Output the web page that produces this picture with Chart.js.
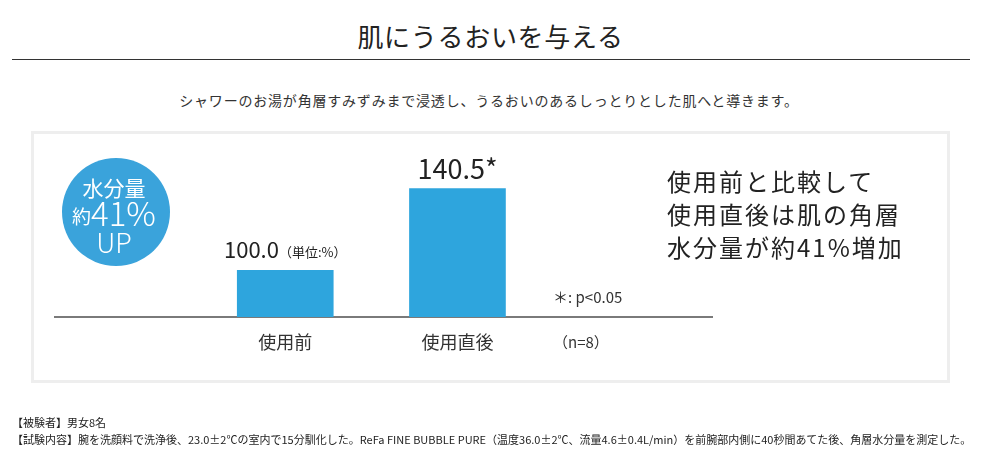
<!DOCTYPE html>
<html lang="ja">
<head>
<meta charset="utf-8">
<script src="https://cdn.jsdelivr.net/npm/chart.js@4.4.1/dist/chart.umd.min.js"></script>
<style>
  body { margin: 0; background: #fff; font-family: "Noto Sans CJK JP", sans-serif; color: #222; }
  #page { position: relative; width: 987px; height: 472px; overflow: hidden; }
  #page div { position: absolute; white-space: nowrap; line-height: 1; }
  #chart { position: absolute; left: 0; top: 0; }
  .title { left: 0; width: 981px; top: 23px; text-align: center; font-size: 26px; letter-spacing: 0.7px; color: #222; }
  .rule { left: 12px; top: 59px; width: 958px; height: 1px; background: #333; }
  .lead { left: 0; width: 978px; top: 93px; text-align: center; font-size: 14px; letter-spacing: 0.8px; color: #333; }
  .panel { left: 31px; top: 131px; width: 919px; height: 252px; border: 3px solid #eeeeee; box-sizing: border-box; }
  .badge { left: 62px; top: 158px; width: 108px; height: 108px; border-radius: 50%; background: #3aa3db; }
  .badge-t { left: 60px; width: 108px; text-align: center; color: #fff; }
  .note { font-size: 15px; color: #333; }
  .side { left: 667px; top: 164px; font-size: 24px; line-height: 33px !important; letter-spacing: 2px; color: #222; }
  .foot { left: 12px; font-size: 11px; color: #222; }
</style>
</head>
<body>
<div id="page">
  <div class="title">肌にうるおいを与える</div>
  <div class="rule"></div>
  <div class="lead">シャワーのお湯が角層すみずみまで浸透し、うるおいのあるしっとりとした肌へと導きます。</div>
  <div class="panel"></div>
  <div class="badge"></div>
  <canvas id="chart" width="987" height="472"></canvas>
  <div class="badge-t" style="top:177px;font-size:21px;">水分量</div>
  <div class="badge-t" style="top:195px;line-height:34px;"><span style="font-size:19px;position:relative;top:-2px;">約</span><span style="font-size:33px;font-weight:300;">41%</span></div>
  <div class="badge-t" style="top:228px;line-height:27px;font-size:27px;font-weight:300;">UP</div>
  <div class="note" style="left:553px;top:289px;">＊: p&lt;0.05</div>
  <div class="note" style="left:553px;top:334px;">（n=8）</div>
  <div class="side">使用前と比較して<br>使用直後は肌の角層<br>水分量が約41%増加</div>
  <div class="foot" style="top:417px;">【被験者】男女8名</div>
  <div class="foot" style="top:434px;">【試験内容】腕を洗顔料で洗浄後、23.0±2℃の室内で15分馴化した。ReFa FINE BUBBLE PURE（温度36.0±2℃、流量4.6±0.4L/min）を前腕部内側に40秒間あてた後、角層水分量を測定した。</div>
</div>
<script>
var categories = ['使用前', '使用直後'];
var values = [100.0, 140.5];
var valueSuffix = ['（単位:%）', '*'];
var yMin = 77;
var yMax = 160;

// label styles per bar
var labelSize = [22, 27];
var suffixSize = [13, 27];
var labelGap = [12, 9];
var FONT = '"Noto Sans CJK JP", sans-serif';

var valueLabels = {
    id: 'valueLabels',
    afterDatasetsDraw: function (chart) {
        var ctx = chart.ctx;
        chart.getDatasetMeta(0).data.forEach(function (bar, i) {
            var main = values[i].toFixed(1);
            var suf = valueSuffix[i];
            ctx.save();
            ctx.font = labelSize[i] + 'px ' + FONT;
            var w1 = ctx.measureText(main).width;
            ctx.font = suffixSize[i] + 'px ' + FONT;
            var w2 = ctx.measureText(suf).width;
            var x = bar.x - (w1 + w2) / 2;
            var y = bar.y - labelGap[i];
            ctx.fillStyle = '#222';
            ctx.textBaseline = 'alphabetic';
            ctx.textAlign = 'left';
            ctx.font = labelSize[i] + 'px ' + FONT;
            ctx.fillText(main, x, y);
            ctx.font = suffixSize[i] + 'px ' + FONT;
            ctx.fillText(suf, x + w1, y - (i === 0 ? 1 : 0));
            ctx.restore();
        });
    }
};

new Chart(document.getElementById('chart'), {
    type: 'bar',
    data: {
        datasets: [{
            data: values.map(function (v, i) { return { x: i + 1, y: v }; }),
            backgroundColor: '#2ea5dd',
            barThickness: 96,
            base: yMin
        }]
    },
    options: {
        responsive: false,
        animation: false,
        devicePixelRatio: 1,
        layout: { padding: { left: 55, right: 275, top: 149, bottom: 115 } },
        plugins: { legend: { display: false }, tooltip: { enabled: false } },
        scales: {
            x: {
                type: 'linear',
                offset: false,
                min: -0.337,
                max: 3.478,
                grid: { display: false, drawTicks: false },
                border: { color: '#7a7a7a', width: 2 },
                afterBuildTicks: function (s) {
                    s.ticks = categories.map(function (c, i) { return { value: i + 1 }; });
                },
                afterFit: function (s) { s.height = 40; },
                ticks: {
                    padding: 14,
                    color: '#333',
                    font: { family: FONT, size: 18 },
                    callback: function (v) { return categories[v - 1]; }
                }
            },
            y: { display: false, min: yMin, max: yMax }
        }
    },
    plugins: [valueLabels]
});
</script>
</body>
</html>
